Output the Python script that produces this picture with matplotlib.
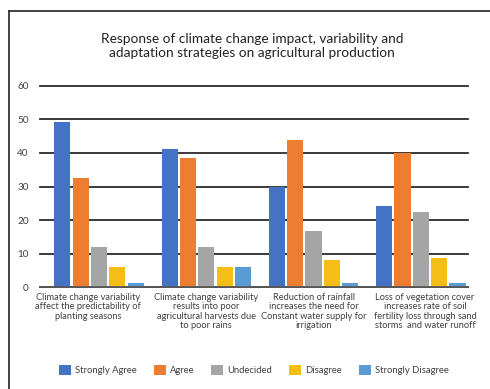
import numpy as np
import matplotlib.pyplot as plt
import matplotlib.transforms as mtransforms
from matplotlib.lines import Line2D

plt.rcParams['font.family'] = ['Lato', 'DejaVu Sans']

categories = [
    "Climate change variability\naffect the predictability of\nplanting seasons",
    "Climate change variability\nresults into poor\nagricultural harvests due\nto poor rains",
    "Reduction of rainfall\nincreases the need for\nConstant water supply for\nirrigation",
    "Loss of vegetation cover\nincreases rate of soil\nfertility loss through sand\nstorms  and water runoff",
]
responses = ["Strongly Agree", "Agree", "Undecided", "Disagree", "Strongly Disagree"]
strongly_agree = [49.2, 41.3, 30.0, 24.3]
agree = [32.6, 38.4, 43.7, 40.0]
undecided = [12.1, 12.1, 16.7, 22.4]
disagree = [5.9, 5.9, 8.2, 8.7]
strongly_disagree = [1.2, 5.9, 1.2, 1.2]
yticks = [0, 10, 20, 30, 40, 50, 60]

series = [strongly_agree, agree, undecided, disagree, strongly_disagree]
colors = ['#4472C4', '#ED7D31', '#A5A5A5', '#F5BE16', '#5B9BD5']

fig = plt.figure(figsize=(4.9, 3.89), dpi=100)
ax = fig.add_axes([0.0816, 0.2614, 0.8735, 0.5183])

x = np.arange(len(categories))
pitch = 0.171
width = 0.15
for i, (vals, col) in enumerate(zip(series, colors)):
    ax.bar(x + (i - 2) * pitch, vals, width, color=col, label=responses[i], zorder=3)

ax.set_xlim(-0.55, len(categories) - 0.56)
ax.set_ylim(0, 60)
ax.set_yticks(yticks)
ax.yaxis.grid(True, color='#2b2b2b', linewidth=1.3)
for gl in ax.get_ygridlines():
    gl.set_clip_on(False)
ax.set_axisbelow(True)
for s in ['top', 'right', 'left']:
    ax.spines[s].set_visible(False)
ax.spines['bottom'].set_color('#595959')
ax.spines['bottom'].set_linewidth(1.3)
ax.spines['bottom'].set_zorder(4)
ax.tick_params(axis='y', length=0, pad=8, labelsize=7.2, labelcolor='#404040')
ax.tick_params(axis='x', length=0, pad=4)
ax.set_xticks(x)
ax.set_xticklabels(categories, fontsize=6.7, color='#404040', linespacing=1.05)

# nudge the outer category labels sideways (points)
label_shift = [-8, 0, 0, 3]
for lbl, dx in zip(ax.get_xticklabels(), label_shift):
    lbl.set_transform(lbl.get_transform() + mtransforms.ScaledTranslation(dx / 72, 0, fig.dpi_scale_trans))

fig.suptitle("Response of climate change impact, variability and\nadaptation strategies on agricultural production",
             x=0.514, y=0.915, fontsize=9.8, color='#222222', linespacing=1.15)

ax.legend(loc='center', bbox_to_anchor=(0.5, -0.41), ncol=5, frameon=False,
          fontsize=6.8, labelcolor='#404040', handlelength=1.25, handleheight=1.25,
          handletextpad=0.45, columnspacing=1.8)

# frame lines along top and left edges
fig.add_artist(Line2D([9 / 490, 9 / 490], [0, 1 - 11 / 389], transform=fig.transFigure,
                      color='#333333', linewidth=1.3))
fig.add_artist(Line2D([9 / 490, 1], [1 - 11 / 389, 1 - 11 / 389], transform=fig.transFigure,
                      color='#333333', linewidth=1.3))

fig.savefig('out.png', dpi=100)
